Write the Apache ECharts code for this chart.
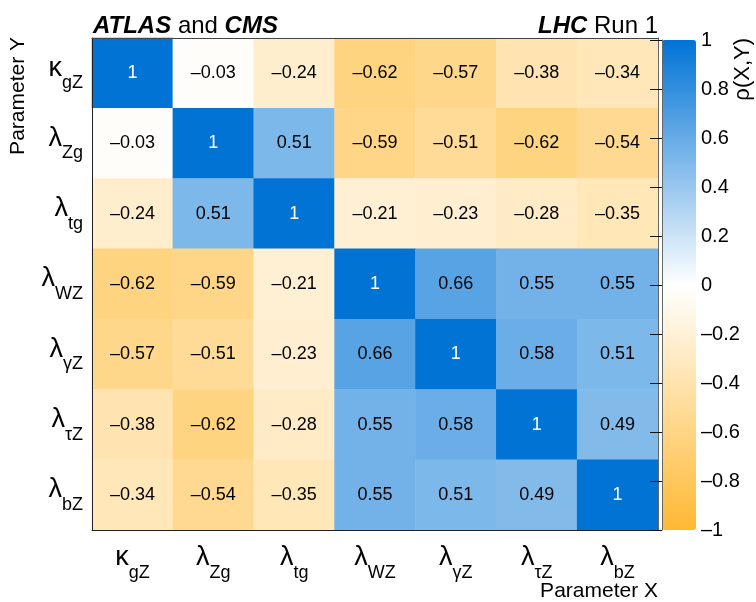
<!DOCTYPE html>
<html>
<head>
<meta charset="utf-8">
<script src="https://cdn.jsdelivr.net/npm/echarts@6/dist/echarts.min.js"></script>
<style>html,body{margin:0;padding:0;background:#fff;}#c{width:756px;height:602px;}</style>
</head>
<body>
<div id="c"></div>
<script>
const paramGreek = ['κ', 'λ', 'λ', 'λ', 'λ', 'λ', 'λ'];
const paramSub = ['gZ', 'Zg', 'tg', 'WZ', 'γZ', 'τZ', 'bZ'];
const rowKgZ = [1, -0.03, -0.24, -0.62, -0.57, -0.38, -0.34];
const rowLZg = [-0.03, 1, 0.51, -0.59, -0.51, -0.62, -0.54];
const rowLtg = [-0.24, 0.51, 1, -0.21, -0.23, -0.28, -0.35];
const rowLWZ = [-0.62, -0.59, -0.21, 1, 0.66, 0.55, 0.55];
const rowLgZ = [-0.57, -0.51, -0.23, 0.66, 1, 0.58, 0.51];
const rowLtZ = [-0.38, -0.62, -0.28, 0.55, 0.58, 1, 0.49];
const rowLbZ = [-0.34, -0.54, -0.35, 0.55, 0.51, 0.49, 1];
const rows = [rowKgZ, rowLZg, rowLtg, rowLWZ, rowLgZ, rowLtZ, rowLbZ];
const colorbarMin = -1, colorbarMax = 1, colorbarStep = 0.2;

const FF = '"Liberation Sans", Arial, Helvetica, sans-serif';
const categories = paramGreek.map((g, i) => g + paramSub[i]);
const fmtNum = v => {
  const r = Math.round(v * 100) / 100;
  return r < 0 ? '\u2013' + String(-r) : String(r);
};
const data = [];
rows.forEach((row, i) => row.forEach((v, j) => {
  const item = { value: [j, i, v] };
  if (v === 1) item.label = { color: '#fff' };
  data.push(item);
}));
const paramLabel = (val, idx) => '{g|' + paramGreek[idx] + '}{s|' + paramSub[idx] + '}';
const labelRich = {
  g: { fontSize: 27, fontFamily: FF, color: '#000', padding: [0, 0, 10, 0] },
  s: { fontSize: 18, fontFamily: FF, color: '#000', padding: [20, 0, 0, 0] }
};

const chart = echarts.init(document.getElementById('c'), null, { renderer: 'canvas' });
chart.setOption({
  animation: false,
  backgroundColor: '#fff',
  grid: [
    { left: 92, top: 38, width: 566, height: 492, containLabel: false },
    { left: 662, top: 40, width: 34, height: 490, containLabel: false }
  ],
  xAxis: [
    { type: 'category', gridIndex: 0, data: categories, position: 'bottom',
      axisLine: { show: true, lineStyle: { color: '#222', width: 1 } }, axisTick: { show: false },
      axisLabel: { interval: 0, margin: 14, formatter: paramLabel, rich: labelRich },
      splitLine: { show: false }, z: 10 },
    { type: 'value', gridIndex: 1, show: false, min: 0, max: 1 },
    { type: 'value', gridIndex: 0, min: 0, max: 1, position: 'top',
      axisLine: { show: true, lineStyle: { color: '#444', width: 1 } }, axisTick: { show: false },
      axisLabel: { show: false }, splitLine: { show: false }, z: 10 }
  ],
  yAxis: [
    { type: 'category', gridIndex: 0, data: categories, inverse: true, position: 'left',
      axisLine: { show: true, lineStyle: { color: '#222', width: 1 } }, axisTick: { show: false },
      axisLabel: { interval: 0, margin: 9, align: 'right', formatter: paramLabel, rich: labelRich },
      splitLine: { show: false }, z: 10 },
    { type: 'value', gridIndex: 1, min: colorbarMin, max: colorbarMax, interval: colorbarStep, position: 'right',
      axisLine: { show: true, lineStyle: { color: '#666', width: 1 } },
      axisTick: { show: true, inside: true, length: 12, lineStyle: { color: '#111', width: 1 } },
      axisLabel: { margin: 5, fontSize: 20, fontFamily: FF, color: '#000',
        formatter: v => { const r = Math.round(v * 10) / 10; return r < 0 ? '\u2013' + String(-r) : String(r); } },
      splitLine: { show: false }, z: 10 },
    { type: 'value', gridIndex: 0, min: 0, max: 1, position: 'right',
      axisLine: { show: true, lineStyle: { color: '#666', width: 1 } }, axisTick: { show: false },
      axisLabel: { show: false }, splitLine: { show: false }, z: 10 }
  ],
  visualMap: {
    type: 'continuous', seriesIndex: 0, min: colorbarMin, max: colorbarMax,
    calculable: false, hoverLink: false, orient: 'vertical',
    left: 662, top: 40, itemWidth: 34, itemHeight: 490, padding: 0,
    text: null, showLabel: false,
    inRange: { color: ['#ffb933', '#ffffff', '#0073d5'] }
  },
  series: [
    { type: 'heatmap', xAxisIndex: 0, yAxisIndex: 0, data: data,
      label: { show: true, fontSize: 18, fontFamily: FF, color: '#000',
        formatter: p => fmtNum(p.value[2]) },
      itemStyle: { borderWidth: 0 },
      emphasis: { disabled: true } },
    { type: 'scatter', xAxisIndex: 1, yAxisIndex: 1, data: [], silent: true }
  ],
  graphic: [
    { type: 'text', left: 93, top: 14, style: {
        text: '{b|ATLAS}{n| and }{b|CMS}',
        rich: {
          b: { fontSize: 24, fontWeight: 'bold', fontStyle: 'italic', fontFamily: FF, fill: '#000' },
          n: { fontSize: 24, fontFamily: FF, fill: '#000' }
        } } },
    { type: 'text', right: 98, top: 14, style: {
        text: '{b|LHC}{n| Run 1}',
        rich: {
          b: { fontSize: 24, fontWeight: 'bold', fontStyle: 'italic', fontFamily: FF, fill: '#000' },
          n: { fontSize: 24, fontFamily: FF, fill: '#000' }
        } } },
    { type: 'text', x: 743, y: 38, rotation: Math.PI / 2, style: {
        text: 'ρ(X,Y)', fontSize: 22, fontFamily: FF, fill: '#000', align: 'right', verticalAlign: 'middle' } },
    { type: 'text', x: 18, y: 37, rotation: Math.PI / 2, style: {
        text: 'Parameter Y', fontSize: 21, fontFamily: FF, fill: '#000', align: 'right', verticalAlign: 'middle' } },
    { type: 'text', x: 658, y: 591, style: {
        text: 'Parameter X', fontSize: 21, fontFamily: FF, fill: '#000', align: 'right', verticalAlign: 'middle' } }
  ]
});
</script>
</body>
</html>
